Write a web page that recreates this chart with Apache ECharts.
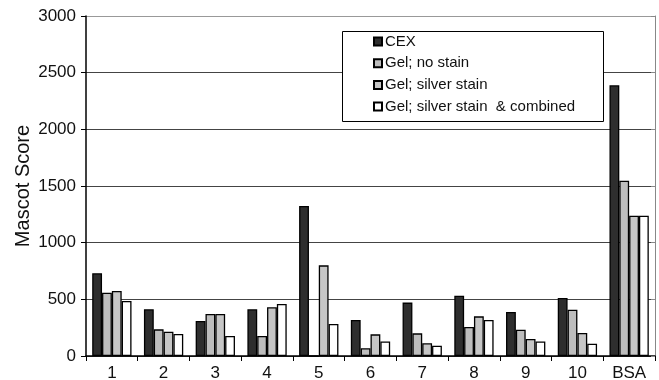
<!DOCTYPE html>
<html><head><meta charset="utf-8">
<script src="https://cdn.jsdelivr.net/npm/echarts@6/dist/echarts.min.js"></script>
<style>html,body{margin:0;padding:0;background:#fff}#c{width:659px;height:380px}</style>
</head><body><div id="c"></div>
<script>
var categories = ['1','2','3','4','5','6','7','8','9','10','BSA'];
var seriesNames = ['CEX','Gel; no stain','Gel; silver stain','Gel; silver stain  & combined'];
var cex =       [730, 412, 309, 412, 1324, 318, 471, 532, 388, 512, 2389];
var gelNoStain =[559, 235, 371, 176, 0,    68,  200, 256, 232, 409, 1547];
var gelSilver = [574, 215, 371, 430, 800,  191, 112, 350, 150, 203, 1238];
var gelSilverCombined = [485, 194, 177, 459, 282, 129, 91, 318, 129, 109, 1238];
var yTicks = [0, 500, 1000, 1500, 2000, 2500, 3000];

var colors = ['#2e2e2e', '#bdbdbd', '#c6c6c6', '#ffffff'];
var datas = [cex, gelNoStain, gelSilver, gelSilverCombined];
var font = 'Liberation Sans, Arial, sans-serif';

var chart = echarts.init(document.getElementById('c'), null, {renderer:'canvas'});
chart.setOption({
  animation: false,
  grid: {left: 86, right: 4, top: 16, bottom: 24, containLabel: false, outerBoundsMode: 'none'},
  graphic: [{
    type: 'rect', left: 342, top: 31, z: 100,
    shape: {width: 261, height: 90},
    style: {fill: '#fff', stroke: '#000', lineWidth: 1}
  }],
  legend: {
    orient: 'vertical', left: 368, top: 29, z: 101,
    itemWidth: 8, itemHeight: 8, itemGap: 6.7,
    icon: 'rect',
    textStyle: {fontFamily: font, fontSize: 15, color: '#111', lineHeight: 15, padding: [0,0,0,-2]},
    data: seriesNames
  },
  xAxis: {
    type: 'category', data: categories,
    axisLine: {lineStyle: {color: '#000', width: 1.5}},
    axisTick: {show: true, alignWithLabel: false, length: 5, lineStyle: {color: '#000'}},
    axisLabel: {fontFamily: font, fontSize: 17, color: '#111', margin: 9}
  },
  yAxis: [{
    type: 'value', min: 0, max: 3000, interval: 500,
    name: 'Mascot Score', nameLocation: 'middle', nameGap: 53, nameMoveOverlap: false,
    nameTextStyle: {fontFamily: font, fontSize: 20, color: '#111'},
    axisLine: {show: true, lineStyle: {color: '#000', width: 1.5}},
    axisTick: {show: true, length: 5, lineStyle: {color: '#000'}},
    axisLabel: {fontFamily: font, fontSize: 17, color: '#111', margin: 10,
      formatter: function(v){ return yTicks.indexOf(v) >= 0 ? String(v) : ''; }},
    splitLine: {show: true, lineStyle: {color: ['#444','#444','#444','#444','#444','#444','#999'], width: 1.2}}
  }, {
    type: 'value', min: 0, max: 3000, interval: 500, position: 'right',
    axisLine: {show: true, lineStyle: {color: '#888', width: 1}},
    axisTick: {show: true, inside: true, length: 4, lineStyle: {color: '#888'}},
    axisLabel: {show: false}, splitLine: {show: false}
  }],
  series: datas.map(function(d, i){
    return {
      name: seriesNames[i], type: 'bar', data: d,
      barGap: '0%', barCategoryGap: '24%',
      itemStyle: {color: colors[i], borderColor: '#000', borderWidth: 1.3}
    };
  })
});
</script></body></html>
